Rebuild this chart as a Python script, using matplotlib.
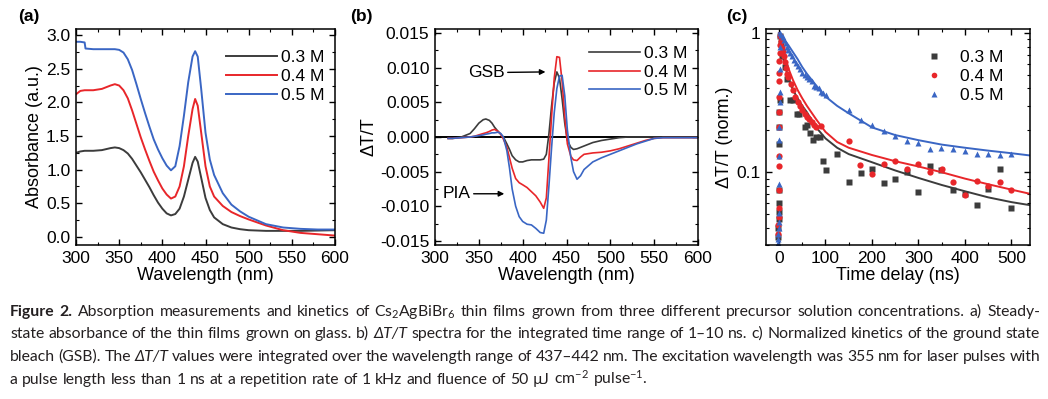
import matplotlib
matplotlib.use("Agg")
import matplotlib.pyplot as plt
from matplotlib.ticker import AutoMinorLocator, MultipleLocator, FixedLocator, FixedFormatter, LogLocator, NullFormatter

plt.rcParams["font.family"] = ["Liberation Sans", "DejaVu Sans"]
plt.rcParams["axes.unicode_minus"] = False
plt.rcParams["mathtext.fontset"] = "custom"
plt.rcParams["mathtext.rm"] = "Lato"
plt.rcParams["mathtext.it"] = "Lato:italic"

BLACK = "#3c3c3c"
RED = "#e8262a"
BLUE = "#3a66c4"
LABELS = ["0.3 M", "0.4 M", "0.5 M"]

# (a) steady-state absorbance
wl_a = [300, 305, 310, 311, 320, 330, 340, 345, 350, 355, 360, 365, 370, 375, 380,
        385, 390, 395, 400, 405, 410, 415, 420, 425, 430, 435, 438, 441, 445, 450,
        455, 460, 470, 480, 490, 500, 520, 540, 560, 580, 600]
abs_03 = [1.25, 1.27, 1.28, 1.28, 1.28, 1.29, 1.32, 1.33, 1.32, 1.29, 1.24, 1.16, 1.06, 0.96, 0.85,
          0.74, 0.62, 0.51, 0.42, 0.35, 0.32, 0.34, 0.42, 0.60, 0.85, 1.10, 1.19, 1.12, 0.88, 0.58,
          0.40, 0.29, 0.19, 0.14, 0.115, 0.10, 0.09, 0.09, 0.09, 0.095, 0.10]
abs_04 = [2.12, 2.17, 2.18, 2.18, 2.18, 2.20, 2.25, 2.27, 2.25, 2.18, 2.06, 1.88, 1.68, 1.48, 1.30,
          1.13, 0.97, 0.84, 0.72, 0.63, 0.57, 0.60, 0.75, 1.05, 1.50, 1.90, 2.05, 1.95, 1.55, 1.05,
          0.75, 0.60, 0.46, 0.37, 0.31, 0.26, 0.17, 0.10, 0.06, 0.04, 0.02]
abs_05 = [2.90, 2.90, 2.89, 2.80, 2.79, 2.79, 2.79, 2.79, 2.78, 2.74, 2.64, 2.48, 2.27, 2.05, 1.84,
          1.64, 1.45, 1.30, 1.17, 1.06, 0.99, 1.05, 1.35, 1.80, 2.30, 2.68, 2.76, 2.68, 2.20, 1.55,
          1.15, 0.92, 0.65, 0.48, 0.38, 0.30, 0.19, 0.14, 0.12, 0.11, 0.11]

# (b) dT/T spectra, 1-10 ns
wl_b = [315, 320, 330, 340, 345, 350, 355, 358, 362, 365, 368, 372, 375, 378, 382, 385, 388,
        392, 396, 400, 405, 410, 415, 420, 424, 427, 430, 433, 436, 439, 442, 445, 448, 451,
        455, 458, 462, 466, 470, 480, 490, 500, 510, 520, 530, 540, 550, 560, 580, 600]
dtt_03 = [-0.0002, -0.0002, 0.0, 0.0005, 0.0012, 0.0020, 0.0025, 0.0026, 0.0024, 0.0020, 0.0014,
          0.0008, 0.0004, 0.0, -0.0010, -0.0018, -0.0027, -0.0033, -0.0036, -0.0036, -0.0034,
          -0.0033, -0.0033, -0.0033, -0.0032, -0.0025, 0.0005, 0.0045, 0.0078, 0.0094, 0.0085,
          0.0055, 0.0020, -0.0005, -0.0015, -0.0018, -0.0017, -0.0015, -0.0013, -0.0008, -0.0005,
          -0.0003, -0.0001, 0.0, 0.0, 0.0, 0.0, 0.0, 0.0, 0.0]
dtt_04 = [-0.0002, -0.0002, -0.0001, 0.0, 0.0001, 0.0003, 0.0005, 0.0006, 0.0008, 0.0010, 0.0011,
          0.0008, 0.0004, -0.0003, -0.0015, -0.0030, -0.0045, -0.0060, -0.0066, -0.0069, -0.0073,
          -0.0079, -0.0085, -0.0094, -0.0103, -0.0088, -0.0030, 0.0030, 0.0085, 0.0116, 0.0115,
          0.0080, 0.0030, -0.0010, -0.0028, -0.0033, -0.0034, -0.0029, -0.0025, -0.0023, -0.0022,
          -0.0020, -0.0017, -0.0013, -0.0009, -0.0005, -0.0002, -0.0001, -0.0001, -0.0001]
dtt_05 = [-0.0002, -0.0002, -0.0001, 0.0, 0.0001, 0.0002, 0.0003, 0.0004, 0.0005, 0.0006, 0.0006,
          0.0007, 0.0005, 0.0, -0.0020, -0.0045, -0.0075, -0.0100, -0.0115, -0.0122, -0.0126,
          -0.0127, -0.0132, -0.0138, -0.0139, -0.0120, -0.0070, -0.0015, 0.0035, 0.0070, 0.0088,
          0.0089, 0.0060, 0.0010, -0.0030, -0.0050, -0.0061, -0.0056, -0.0047, -0.0036, -0.0030,
          -0.0025, -0.0020, -0.0015, -0.0010, -0.0006, -0.0002, -0.0001, -0.0001, -0.0001]

# (c) normalized GSB kinetics
t_03 = [-1.5, -1.2, -0.9, -0.6, -0.3, 0.0, 0.3, 0.6, 0.9, 1.2,
        2, 4, 7, 12, 18, 23, 30, 39, 44, 55, 61, 67, 73, 79, 88, 95, 102, 125, 151, 176,
        201, 226, 250, 275, 300, 324, 349, 374, 400, 425, 449, 475, 500]
k_03 = [0.034, 0.040, 0.046, 0.052, 0.060, 0.075, 0.16, 0.21, 0.27, 0.33,
        0.95, 0.85, 0.68, 0.57, 0.47, 0.33, 0.33, 0.26, 0.26, 0.21, 0.22, 0.19, 0.17, 0.18, 0.18,
        0.12, 0.104, 0.136, 0.085, 0.098, 0.105, 0.084, 0.089, 0.10, 0.072, 0.11, 0.103, 0.075,
        0.07, 0.058, 0.076, 0.105, 0.055]
t_04 = [-1.5, -1.3, -1.1, -0.9, -0.7, -0.5, -0.3, -0.1, 0.1, 0.3, 0.5, 0.7, 0.9, 1.1, 1.3,
        2, 4, 6, 8, 10, 12, 15, 18, 20, 25, 30, 35, 40, 45, 50, 55, 60, 65, 70, 75, 80, 91,
        150, 175, 200, 225, 250, 275, 300, 325, 350, 375, 400, 425, 450, 475, 500]
k_04 = [0.036, 0.042, 0.048, 0.055, 0.074, 0.11, 0.13, 0.21, 0.27, 0.35, 0.45, 0.52, 0.63, 0.72, 0.82,
        0.95, 0.88, 0.80, 0.74, 0.68, 0.62, 0.56, 0.51, 0.48, 0.43, 0.39, 0.35, 0.32, 0.30, 0.28,
        0.26, 0.25, 0.24, 0.23, 0.22, 0.21, 0.214, 0.169, 0.113, 0.097, 0.115, 0.121, 0.106,
        0.115, 0.10, 0.106, 0.085, 0.069, 0.087, 0.079, 0.085, 0.075]
t_05 = [-1.8, -1.5, -1.2, -0.9, -0.6, -0.3, 0.0, 0.3, 0.6, 0.9, 1.2, 1.5, 1.8, 2.1,
        2, 5, 8, 11, 14, 17, 20, 24, 28, 32, 36, 40, 45, 50, 55, 60, 65, 70, 75, 80, 85, 90,
        95, 102, 151, 176, 201, 226, 250, 275, 300, 324, 349, 374, 400, 425, 449, 475, 500]
k_05 = [0.031, 0.033, 0.036, 0.040, 0.044, 0.051, 0.083, 0.13, 0.17, 0.21, 0.32, 0.38, 0.55, 0.79,
        1.0, 0.97, 0.93, 0.89, 0.85, 0.80, 0.76, 0.72, 0.68, 0.64, 0.61, 0.58, 0.55, 0.52, 0.50,
        0.48, 0.47, 0.45, 0.42, 0.41, 0.40, 0.38, 0.37, 0.36, 0.28, 0.236, 0.22, 0.197, 0.181,
        0.167, 0.163, 0.148, 0.15, 0.146, 0.143, 0.136, 0.136, 0.132, 0.136]
t_fit = [0, 2, 5, 10, 15, 20, 30, 40, 50, 60, 80, 100, 125, 150, 200, 250, 300, 350, 400, 450, 500, 540]
fit_03 = [1.0, 0.9, 0.78, 0.64, 0.55, 0.48, 0.39, 0.34, 0.30, 0.27, 0.21, 0.175, 0.15, 0.135,
          0.118, 0.103, 0.091, 0.081, 0.073, 0.066, 0.061, 0.058]
fit_04 = [1.0, 0.93, 0.84, 0.72, 0.63, 0.56, 0.46, 0.39, 0.34, 0.30, 0.24, 0.195, 0.165, 0.15,
          0.133, 0.12, 0.11, 0.10, 0.09, 0.082, 0.075, 0.07]
fit_05 = [1.0, 0.98, 0.95, 0.91, 0.86, 0.82, 0.73, 0.65, 0.57, 0.51, 0.42, 0.35, 0.30, 0.265,
          0.21, 0.185, 0.17, 0.158, 0.15, 0.143, 0.137, 0.132]

W, H = 1048, 399
fig = plt.figure(figsize=(W / 100, H / 100), dpi=100)


def px_axes(left, right, top, bottom):
    return fig.add_axes([left / W, 1 - bottom / H, (right - left) / W, (bottom - top) / H])


def style_ax(ax):
    ax.tick_params(which="both", direction="in", top=True, right=True, labelsize=12.5, pad=4)
    ax.tick_params(which="major", length=4, width=1)
    ax.tick_params(which="minor", length=2.5, width=0.8)
    for s in ax.spines.values():
        s.set_linewidth(1.1)


ax_a = px_axes(76, 335, 29, 245)
ax_b = px_axes(435, 698, 29, 245)
ax_c = px_axes(766, 1030, 29, 245)

# --- (a)
for y, c, lab in zip([abs_03, abs_04, abs_05], [BLACK, RED, BLUE], LABELS):
    ax_a.plot(wl_a, y, color=c, lw=1.4, label=lab)
ax_a.set_xlim(300, 600)
ax_a.set_ylim(-0.12, 3.09)
ax_a.xaxis.set_major_locator(MultipleLocator(50))
ax_a.yaxis.set_major_locator(MultipleLocator(0.5))
ax_a.xaxis.set_minor_locator(AutoMinorLocator(2))
ax_a.yaxis.set_minor_locator(AutoMinorLocator(2))
ax_a.yaxis.set_major_formatter(plt.FormatStrFormatter("%.1f"))
ax_a.set_xlabel("Wavelength (nm)", fontsize=13, labelpad=1)
ax_a.set_ylabel("Absorbance (a.u.)", fontsize=13, labelpad=2)
ax_a.legend(loc="upper right", bbox_to_anchor=(1.0, 0.95), frameon=False, fontsize=12.5,
            handlelength=2.9, handletextpad=0.25, labelspacing=0.2, borderaxespad=0.2)
style_ax(ax_a)

# --- (b)
ax_b.axhline(0, color="black", lw=1.4)
for y, c, lab in zip([dtt_03, dtt_04, dtt_05], [BLACK, RED, BLUE], LABELS):
    ax_b.plot(wl_b, y, color=c, lw=1.2, label=lab)
ax_b.set_xlim(300, 600)
ax_b.set_ylim(-0.0156, 0.0156)
ax_b.xaxis.set_major_locator(MultipleLocator(50))
ax_b.yaxis.set_major_locator(MultipleLocator(0.005))
ax_b.xaxis.set_minor_locator(AutoMinorLocator(2))
ax_b.yaxis.set_minor_locator(AutoMinorLocator(2))
ax_b.yaxis.set_major_formatter(plt.FormatStrFormatter("%.3f"))
ax_b.set_xlabel("Wavelength (nm)", fontsize=13, labelpad=1)
ax_b.set_ylabel("ΔT/T", fontsize=13, labelpad=2)
ax_b.legend(loc="upper right", bbox_to_anchor=(1.0, 0.97), frameon=False, fontsize=12.5,
            handlelength=2.9, handletextpad=0.25, labelspacing=0.2, borderaxespad=0.2)
arrow = dict(arrowstyle="-|>", color="black", lw=1.0, mutation_scale=8, shrinkA=0, shrinkB=0)
ax_b.annotate("GSB", xy=(426, 0.0094), xytext=(338, 0.0093), ha="left", va="center",
              fontsize=12.5, arrowprops=arrow)
ax_b.annotate("PIA", xy=(379, -0.0082), xytext=(309, -0.0082), ha="left", va="center",
              fontsize=12.5, arrowprops=arrow)
style_ax(ax_b)

# --- (c)
for t, k, tf, kf, c, m, lab in zip([t_03, t_04, t_05], [k_03, k_04, k_05],
                                   [t_fit] * 3, [fit_03, fit_04, fit_05],
                                   [BLACK, RED, BLUE], ["s", "o", "^"], LABELS):
    ax_c.plot(t, k, ls="none", marker=m, ms=4.5, color=c, mec="none", label=lab)
    ax_c.plot(tf, kf, color=c, lw=1.4)
ax_c.set_yscale("log")
ax_c.set_xlim(-28, 540)
ax_c.set_ylim(0.03, 1.07)
ax_c.xaxis.set_major_locator(MultipleLocator(100))
ax_c.xaxis.set_minor_locator(AutoMinorLocator(2))
ax_c.yaxis.set_major_locator(FixedLocator([0.1, 1.0]))
ax_c.yaxis.set_major_formatter(FixedFormatter(["0.1", "1"]))
ax_c.yaxis.set_minor_locator(LogLocator(base=10, subs=range(2, 10)))
ax_c.yaxis.set_minor_formatter(NullFormatter())
ax_c.set_xlabel("Time delay (ns)", fontsize=13, labelpad=1)
ax_c.set_ylabel("ΔT/T (norm.)", fontsize=13, labelpad=2)
ax_c.legend(loc="upper right", bbox_to_anchor=(0.94, 0.95), frameon=False, fontsize=12.5,
            handlelength=1.0, handletextpad=1.0, labelspacing=0.2, borderaxespad=0.2,
            markerscale=0.9)
style_ax(ax_c)

for x, lab in [(18, "(a)"), (350, "(b)"), (726, "(c)")]:
    fig.text(x / W, 1 - 16 / H, lab, fontsize=12.5, fontweight="bold", va="center", ha="left")

# --- caption, justified word by word
CAP_FS = 11.3
CAP_COLOR = "#231f20"
cap_norm = dict(family=["Lato", "DejaVu Sans"])
cap_bold = dict(family=["Lato", "DejaVu Sans"], fontweight="bold")
cap_ital = dict(family=["Lato", "DejaVu Sans"], style="italic")
caption = [
    ([("Figure 2.", cap_bold),
      ("Absorption measurements and kinetics of Cs$_2$AgBiBr$_6$ thin films grown from three "
       "different precursor solution concentrations. a) Steady-", cap_norm)], True),
    ([("state absorbance of the thin films grown on glass. b)", cap_norm), ("ΔT/T", cap_ital),
      ("spectra for the integrated time range of 1–10 ns. c) Normalized kinetics of the ground state",
       cap_norm)], True),
    ([("bleach (GSB). The", cap_norm), ("ΔT/T", cap_ital),
      ("values were integrated over the wavelength range of 437–442 nm. The excitation "
       "wavelength was 355 nm for laser pulses with", cap_norm)], True),
    ([("a pulse length less than 1 ns at a repetition rate of 1 kHz and fluence of "
       "50 µJ cm$^{-2}$ pulse$^{-1}$.", cap_norm)], False),
]
baselines = [316, 338, 361, 384]
x0, x1 = 10, 1040
renderer = fig.canvas.get_renderer()
for (segments, justify), yb in zip(caption, baselines):
    words = []
    for txt, props in segments:
        for w in txt.split():
            words.append((w, props))
    arts, widths = [], []
    for w, props in words:
        t = fig.text(0, 1 - yb / H, w, fontsize=CAP_FS, color=CAP_COLOR, va="baseline", **props)
        arts.append(t)
        widths.append(t.get_window_extent(renderer).width)
    gap = (x1 - x0 - sum(widths)) / (len(words) - 1) if justify else CAP_FS * 0.27 * 100 / 72
    x = x0
    for t, wd in zip(arts, widths):
        t.set_x(x / W)
        x += wd + gap

fig.savefig("out.png", dpi=100)
